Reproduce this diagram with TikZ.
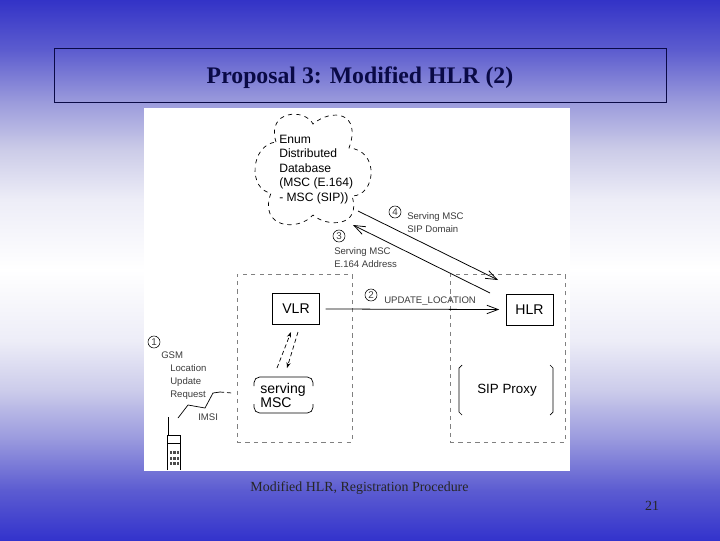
\documentclass[tikz,border=0pt]{standalone}
\usepackage{fontspec}
\setmainfont{Liberation Serif}
\setsansfont{Liberation Sans}
\usetikzlibrary{arrows,arrows.meta,shapes,positioning,calc}
\definecolor{slidenavy}{RGB}{10,10,70}
\definecolor{labelgray}{RGB}{60,60,60}
\pgfdeclareverticalshading{slideback}{100bp}{
    rgb(0bp)=(0.2,0.2,0.8);
    rgb(25bp)=(0.2,0.2,0.8);
    rgb(29.6bp)=(0.36,0.36,0.82);
    rgb(34.3bp)=(0.6,0.6,0.87);
    rgb(38.9bp)=(0.8,0.8,0.92);
    rgb(43.5bp)=(0.93,0.93,0.97);
    rgb(50bp)=(1,1,1);
    rgb(56.5bp)=(0.93,0.93,0.97);
    rgb(61.1bp)=(0.8,0.8,0.91);
    rgb(65.7bp)=(0.6,0.6,0.86);
    rgb(70.4bp)=(0.36,0.36,0.81);
    rgb(75bp)=(0.2,0.2,0.78);
    rgb(100bp)=(0.2,0.2,0.78)}
\tikzset{
    netbox/.style={draw,line width=0.7pt,minimum width=47*0.025cm,minimum height=31*0.025cm,inner sep=0pt,font=\sffamily\fontsize{10}{12}\selectfont},
    domainbox/.style={draw=gray,dashed,line width=0.5pt,minimum width=115*0.025cm,minimum height=168*0.025cm},
    smalllabel/.style={text=labelgray,inner sep=0pt,align=left,font=\sffamily\fontsize{6.8}{9.3}\selectfont},
    numcircle/.style={circle,draw,line width=0.4pt,inner sep=0pt,minimum size=12*0.025cm,text=labelgray,font=\sffamily\fontsize{7}{8}\selectfont},
    msgarrow/.style={-{Straight Barb[length=8pt,width=6pt]},line width=0.55pt},
    radioarrow/.style={-{Stealth[length=4pt,width=3pt]},densely dashed,line width=0.5pt}
}
\begin{document}
\begin{tikzpicture}[x=0.025cm,y=-0.025cm]
    \useasboundingbox (0,0) rectangle (720,540);
    % Background
    \shade[shading=slideback] (0,0) rectangle (720,540);
    \fill[white] (144,108) rectangle (570,471);

    % Title
    \node[draw=slidenavy,line width=0.7pt,minimum width=612*0.025cm,minimum height=54*0.025cm,text depth=0pt,text=slidenavy,font=\fontsize{16.9}{18}\selectfont\bfseries] (title) at (360,75) {Proposal 3: Modified HLR (2)};

    % Domains
    \node[domainbox] (visited) at (294.5,358) {};
    \node[domainbox] (home) at (507.5,358) {};

    % Boxes
    \node[netbox] (vlr) at (296,309) {VLR};
    \node[netbox] (hlr) at (529.5,309.5) {HLR};
    \node[font=\sffamily\fontsize{9.5}{11}\selectfont,inner sep=0pt] (proxy) at (507,390) {SIP Proxy};
    \node[font=\sffamily\fontsize{10}{10.3}\selectfont,align=left,inner sep=0pt] (msc) at (283,395.5) {serving\\MSC};

    % Cloud
    \draw[dashed,line width=0.5pt] (276,142) .. controls (266,110) and (305,108) .. (313,124)
        .. controls (332,108) and (362,112) .. (349,148)
        .. controls (380,150) and (376,196) .. (352,196)
        .. controls (362,228) and (326,227) .. (313,215)
        .. controls (298,232) and (258,228) .. (271,193)
        .. controls (248,190) and (250,145) .. cycle;
    \node[right,align=left,inner sep=0pt,font=\sffamily\fontsize{8.6}{10.3}\selectfont] (enumtext) at (279,169.5) {Enum\\Distributed\\Database\\(MSC (E.164)\\- MSC (SIP))};

    % Brackets
    \draw[line width=0.5pt] (462,365) -- (459,368) -- (459,412) -- (462,415);
    \draw[line width=0.5pt] (550,365) -- (553,368) -- (553,412) -- (550,415);
    \draw[line width=0.5pt,rounded corners=4pt] (254,386) -- (254,377) -- (313,377) -- (313,386);
    \draw[line width=0.5pt,rounded corners=4pt] (254,404) -- (254,413) -- (313,413) -- (313,404);

    % Phone
    \draw[line width=0.6pt] (167,470) -- (167,435) -- (180,435) -- (180,470);
    \draw[line width=0.6pt] (167,443) -- (180,443);
    \coordinate (antenna) at (168,417);
    \coordinate (phonetop) at (168,435);
    \draw[line width=0.6pt] (antenna) -- (phonetop);
    \foreach \row in {0,1,2}
        \foreach \col in {0,1,2}
            \fill[black!70] ({170+\col*3.4},{451+\row*5.5}) rectangle +(2.4,3);

    % Connectors
    \coordinate (cloudout) at (358,211);
    \coordinate (hlrin) at (498,280);
    \coordinate (hlrout) at (490,293);
    \coordinate (cloudin) at (353,225);
    \coordinate (vlrdown) at (298,332);
    \coordinate (mscup) at (287,368);
    \coordinate (mscout) at (277,368);
    \coordinate (vlrup) at (291,332);
    \coordinate (radiostart) at (178,418);
    \coordinate (radioend) at (232,393);
    \draw[msgarrow] (cloudout) -- (hlrin);
    \draw[msgarrow] (hlrout) -- (cloudin);
    \draw[msgarrow] ([xshift=4pt]vlr.east) -- ([xshift=-4.5pt]hlr.west);
    \draw[radioarrow] (vlrdown) -- (mscup);
    \draw[radioarrow] (mscout) -- (vlrup);
    \draw[line width=0.5pt] (radiostart) -- (188,405) -- (205,408) -- (213,393) -- (220,392);
    \draw[densely dashed,line width=0.5pt] (220,392) -- (radioend);

    % Numbers
    \node[numcircle] (one) at (154,342) {1};
    \node[numcircle] (two) at (371,295) {2};
    \node[numcircle] (three) at (339,236) {3};
    \node[numcircle] (four) at (395,212) {4};

    % Labels
    \node[smalllabel,right] (gsm) at (161,355) {GSM};
    \node[smalllabel,right] (request) at (170,382) {Location\\Update\\Request};
    \node[smalllabel,right] (imsi) at (198,417) {IMSI};
    \node[smalllabel,right] (sipdomain) at (407,222.5) {Serving MSC\\SIP Domain};
    \node[smalllabel,right] (address) at (334,257.5) {Serving MSC\\E.164 Address};
    \node[smalllabel,right] (update) at (384,301) {UPDATE\_LOCATION};

    % Caption
    \node[text=black!85,inner sep=0pt,font=\fontsize{9.9}{11}\selectfont] (caption) at (359.5,488) {Modified HLR, Registration Procedure};
    \node[text=black!85,inner sep=0pt,font=\fontsize{9.9}{11}\selectfont] (page) at (652,505.5) {21};
\end{tikzpicture}
\end{document}
